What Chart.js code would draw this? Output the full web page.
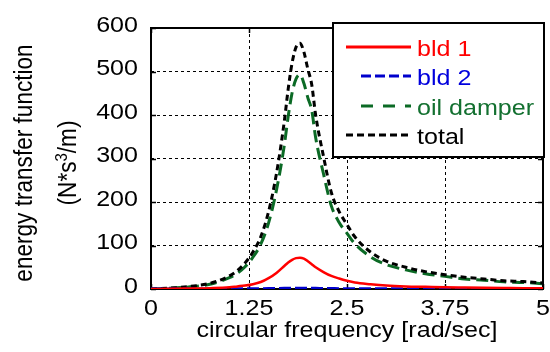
<!DOCTYPE html>
<html>
<head>
<meta charset="utf-8">
<script src="https://cdn.jsdelivr.net/npm/chart.js@4/dist/chart.umd.min.js"></script>
<style>
  html, body { margin: 0; padding: 0; background: #ffffff; }
  #wrap { width: 550px; height: 352px; }
</style>
</head>
<body>
<div id="wrap"><canvas id="c" width="550" height="352"></canvas></div>
<script>
// circular frequency [rad/sec]
const freq = [0, 0.25, 0.5, 0.75, 1.0, 1.1, 1.2, 1.3, 1.4, 1.5, 1.6, 1.7, 1.75, 1.8, 1.85, 1.9, 1.95, 2.0, 2.05, 2.1, 2.2, 2.3, 2.4, 2.5, 2.6, 2.8, 3.0, 3.25, 3.5, 3.75, 4.0, 4.25, 4.5, 4.75, 5.0];

// energy transfer function per element [N*s^3/m]
const bld1 = [0, 0.3, 1, 2, 4, 6, 8, 11, 16, 25, 37, 53, 61, 67, 71, 72, 70, 64, 57, 50, 39, 30, 24, 19, 15, 11, 8, 6, 5, 4, 3.5, 3, 2.5, 2, 2];
const bld2 = [0, 0, 0.1, 0.2, 0.3, 0.4, 0.5, 0.6, 0.8, 1, 1.2, 1.5, 1.7, 1.8, 1.9, 2, 1.9, 1.8, 1.6, 1.5, 1.2, 1, 0.8, 0.7, 0.6, 0.5, 0.4, 0.3, 0.3, 0.2, 0.2, 0.2, 0.1, 0.1, 0.1];
const oilDamper = [0, 1.7, 5, 11, 26, 36, 51, 73, 103, 152, 227, 330, 397, 451, 483, 493, 473, 440, 411, 348, 265, 191, 153, 128, 104, 74, 56, 44, 35, 29, 23, 20, 16.5, 15, 12];
const total = [0, 2, 6, 13, 30, 42, 60, 85, 120, 178, 265, 385, 460, 520, 556, 565, 545, 506, 470, 400, 305, 222, 178, 148, 120, 85, 64, 50, 40, 33, 27, 23, 19, 17, 14];

const xTicks = [0, 1.25, 2.5, 3.75, 5];
const yTicks = [0, 100, 200, 300, 400, 500, 600];

const FONT = "'Liberation Sans', Arial, Helvetica, sans-serif";
const FS = 22;
const SX = 1.14;   // glyphs are drawn a little wide

function points(ys) { return freq.map((x, i) => ({ x: x, y: ys[i] })); }

// horizontal text, widened by SX
function wideText(ctx, text, x, y, align) {
  ctx.save();
  ctx.translate(x, y);
  ctx.scale(SX, 1);
  ctx.textAlign = align;
  ctx.fillText(text, 0, 0);
  ctx.restore();
}

// Frame, inward tick marks, tick labels, axis titles and the boxed legend
const decorations = {
  id: 'decorations',
  beforeDatasetsDraw(chart) {
    const { ctx, chartArea: a, scales } = chart;
    ctx.save();
    ctx.strokeStyle = '#000';
    ctx.lineWidth = 1.5;
    ctx.setLineDash([]);
    ctx.beginPath();
    xTicks.forEach(v => {
      const x = Math.round(scales.x.getPixelForValue(v)) + 0.5;
      ctx.moveTo(x, a.bottom); ctx.lineTo(x, a.bottom - 5);
      ctx.moveTo(x, a.top); ctx.lineTo(x, a.top + 5);
    });
    yTicks.forEach(v => {
      const y = Math.round(scales.y.getPixelForValue(v)) + 0.5;
      ctx.moveTo(a.left, y); ctx.lineTo(a.left + 5, y);
      ctx.moveTo(a.right, y); ctx.lineTo(a.right - 5, y);
    });
    ctx.stroke();
    ctx.lineWidth = 2;
    ctx.strokeRect(a.left, a.top, a.right - a.left, a.bottom - a.top);

    // tick labels
    ctx.fillStyle = '#000';
    ctx.font = FS + 'px ' + FONT;
    ctx.textBaseline = 'alphabetic';
    xTicks.forEach(v => wideText(ctx, String(v), scales.x.getPixelForValue(v), 315, 'center'));
    yTicks.forEach(v => wideText(ctx, String(v), 138, scales.y.getPixelForValue(v) + 3.5, 'right'));
    ctx.restore();
  },
  afterDraw(chart) {
    const { ctx, chartArea: a } = chart;
    ctx.save();
    ctx.fillStyle = '#000';
    ctx.font = FS + 'px ' + FONT;
    ctx.textBaseline = 'alphabetic';

    // x axis title
    wideText(ctx, 'circular frequency [rad/sec]', (a.left + a.right) / 2, 337, 'center');

    // y axis title, two rotated lines
    const cy = 163;
    const vf = 22.6;
    ctx.save();
    ctx.translate(32, cy);
    ctx.rotate(-Math.PI / 2);
    ctx.scale(1, SX);
    ctx.font = vf + 'px ' + FONT;
    ctx.textAlign = 'center';
    ctx.fillText('energy transfer function', 0, 0);
    ctx.restore();

    ctx.save();
    ctx.translate(76, cy);
    ctx.rotate(-Math.PI / 2);
    ctx.scale(1, SX);
    ctx.textAlign = 'left';
    const p1 = '(N*s', sup = '3', p2 = '/m)';
    const supFont = Math.round(vf * 0.68) + 'px ' + FONT;
    ctx.font = vf + 'px ' + FONT;
    const w1 = ctx.measureText(p1).width, w3 = ctx.measureText(p2).width;
    ctx.font = supFont;
    const w2 = ctx.measureText(sup).width;
    const x0 = -(w1 + w2 + w3) / 2;
    ctx.font = vf + 'px ' + FONT;
    ctx.fillText(p1, x0, 0);
    ctx.font = supFont;
    ctx.fillText(sup, x0 + w1, -8);
    ctx.font = vf + 'px ' + FONT;
    ctx.fillText(p2, x0 + w1 + w2, 0);
    ctx.restore();

    // legend box
    const bx = 333, by = 23, bw = 211, bh = 134;
    ctx.fillStyle = '#fff';
    ctx.fillRect(bx, by, bw, bh);
    ctx.lineWidth = 2;
    ctx.strokeStyle = '#000';
    ctx.setLineDash([]);
    ctx.strokeRect(bx, by, bw, bh);

    const rows = [47, 76, 106, 135];
    const lineStart = [346, 361, 361, 346];
    const legendDash = [[], [10, 4], [12, 10], [7, 4]];
    chart.data.datasets.forEach((ds, i) => {
      const y = rows[i];
      ctx.beginPath();
      ctx.strokeStyle = ds.borderColor;
      ctx.lineWidth = 3;
      ctx.setLineDash(legendDash[i]);
      ctx.moveTo(lineStart[i], y);
      ctx.lineTo(411, y);
      ctx.stroke();
      ctx.setLineDash([]);
      ctx.fillStyle = ds.textColor;
      ctx.font = FS + 'px ' + FONT;
      wideText(ctx, ds.label, 417, y + 9, 'left');
    });
    ctx.restore();
  }
};

new Chart(document.getElementById('c'), {
  type: 'line',
  data: {
    datasets: [
      { label: 'bld 1', data: points(bld1), borderColor: '#ff0000', textColor: '#ff0000', borderWidth: 2.5, order: 0 },
      { label: 'bld 2', data: points(bld2), borderColor: '#0000cc', textColor: '#0000dd', borderWidth: 3, borderDash: [12, 4], order: 1 },
      { label: 'oil damper', data: points(oilDamper), borderColor: '#0b6a25', textColor: '#137030', borderWidth: 3, borderDash: [12, 6], order: 3 },
      { label: 'total', data: points(total), borderColor: '#000000', textColor: '#000000', borderWidth: 3, borderDash: [6, 4], order: 2 }
    ]
  },
  options: {
    responsive: false,
    animation: false,
    devicePixelRatio: 1,
    layout: { padding: { left: 0, top: 28, right: 7, bottom: 0 } },
    elements: {
      point: { radius: 0 },
      line: { cubicInterpolationMode: 'monotone', fill: false }
    },
    plugins: { legend: { display: false }, tooltip: { enabled: false }, title: { display: false } },
    scales: {
      x: {
        type: 'linear', min: 0, max: 5,
        afterBuildTicks: s => { s.ticks = xTicks.map(v => ({ value: v })); },
        afterFit: s => { s.height = 63; },
        grid: { color: '#000', lineWidth: 1, drawTicks: false },
        border: { display: false, dash: [3, 3] },
        ticks: { display: false }
      },
      y: {
        min: 0, max: 600,
        afterBuildTicks: s => { s.ticks = yTicks.map(v => ({ value: v })); },
        afterFit: s => { s.width = 151; },
        grid: { color: '#000', lineWidth: 1, drawTicks: false },
        border: { display: false, dash: [3, 3] },
        ticks: { display: false }
      }
    }
  },
  plugins: [decorations]
});
</script>
</body>
</html>
